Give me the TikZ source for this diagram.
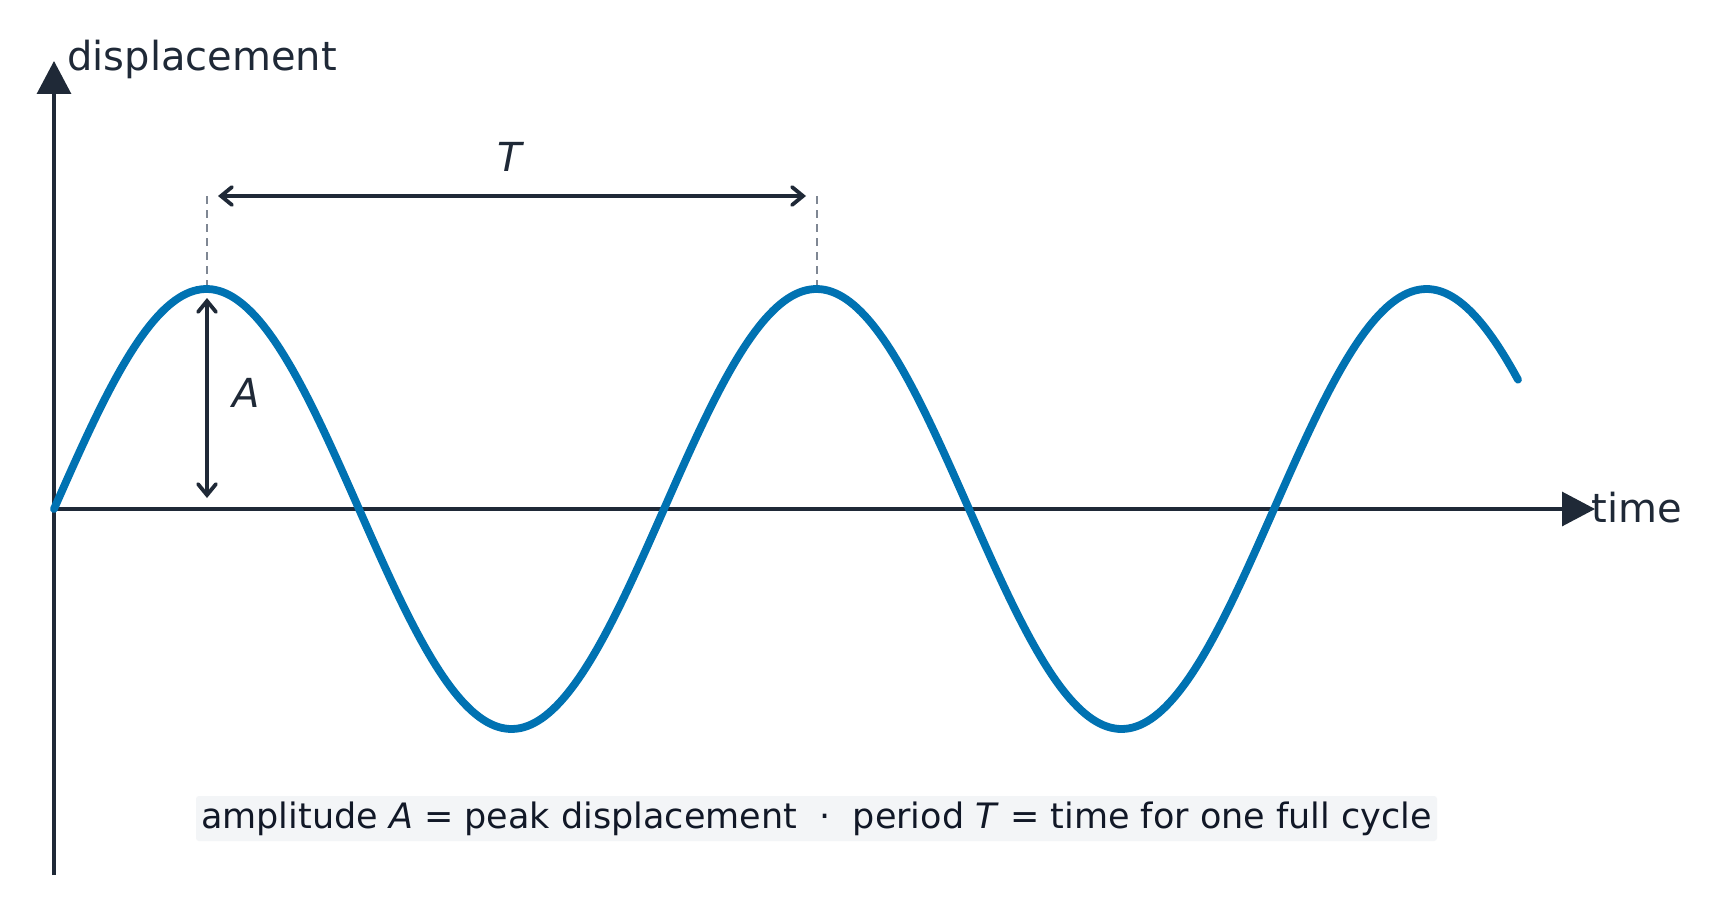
\documentclass[tikz,border=0pt]{standalone}
\usepackage{fontspec}
\setmainfont{DejaVu Sans}
\usetikzlibrary{arrows.meta}
\definecolor{axiscol}{HTML}{1F2937}
\definecolor{wavecol}{HTML}{0072B2}
\definecolor{dashcol}{HTML}{7F8793}
\definecolor{boxbg}{HTML}{F3F5F7}
\definecolor{notecol}{HTML}{111827}
\tikzset{
  axisline/.style={draw=axiscol, line width=1.6pt, -{Triangle[length=16.5pt,width=17pt]}},
  wave/.style={draw=wavecol, line width=3.9pt, line cap=round, line join=round},
  guide/.style={draw=dashcol, line width=1.4pt, dash pattern=on 4pt off 3pt},
  dimarrow/.style={draw=axiscol, line width=1.9pt, {Straight Barb[length=5.5pt,width=9pt,line cap=round]}-{Straight Barb[length=5.5pt,width=9pt,line cap=round]}},
  lbl/.style={text=axiscol, font=\fontsize{20pt}{24pt}\selectfont, inner sep=0pt},
  note/.style={fill=boxbg, rounded corners=1.5pt, text=notecol, font=\fontsize{17.5pt}{20pt}\selectfont, minimum width=620.5pt, minimum height=22.5pt, inner sep=0pt}
}
\begin{document}
\begin{tikzpicture}[x=0.5pt,y=-0.5pt]
\useasboundingbox (0,0) rectangle (1723,915);
\fill[white] (0,0) rectangle (1723,915);
% coordinates
\coordinate (O) at (54,509);
\coordinate (ybot) at (54,875);
\coordinate (ytip) at (54,61);
\coordinate (xtip) at (1595,509);
\coordinate (p1) at (207,289);
\coordinate (p1top) at (207,196);
\coordinate (p2) at (817,289);
\coordinate (p2top) at (817,196);
\coordinate (Tl) at (218,196);
\coordinate (Tr) at (806,196);
\coordinate (Atop) at (207,298);
\coordinate (Abot) at (207,498);
% guides
\draw[guide] (p1top) -- (p1);
\draw[guide] (p2top) -- (p2);
% axes
\draw[axisline] (ybot) -- (ytip);
\draw[axisline] (O) -- (xtip);
% wave
\draw[wave] plot[domain=54:1518, samples=400] (\x, {509-220*sin(0.5901639*(\x-54))});
% dimension arrows
\draw[dimarrow] (Tl) -- (Tr);
\draw[dimarrow] (Atop) -- (Abot);
% labels
\node[lbl, anchor=base west] (ylab) at (67,71) {displacement};
\node[lbl, anchor=base west] (xlab) at (1591,522) {time};
\node[lbl] (Tlab) at (511,157) {\textit{T}};
\node[lbl] (Alab) at (246,393) {\textit{A}};
\node[note] (notebox) at (816.5,818.5) {amplitude \textit{A} = peak displacement\ \ ·\ \ period \textit{T} = time for one full cycle};
\end{tikzpicture}
\end{document}
